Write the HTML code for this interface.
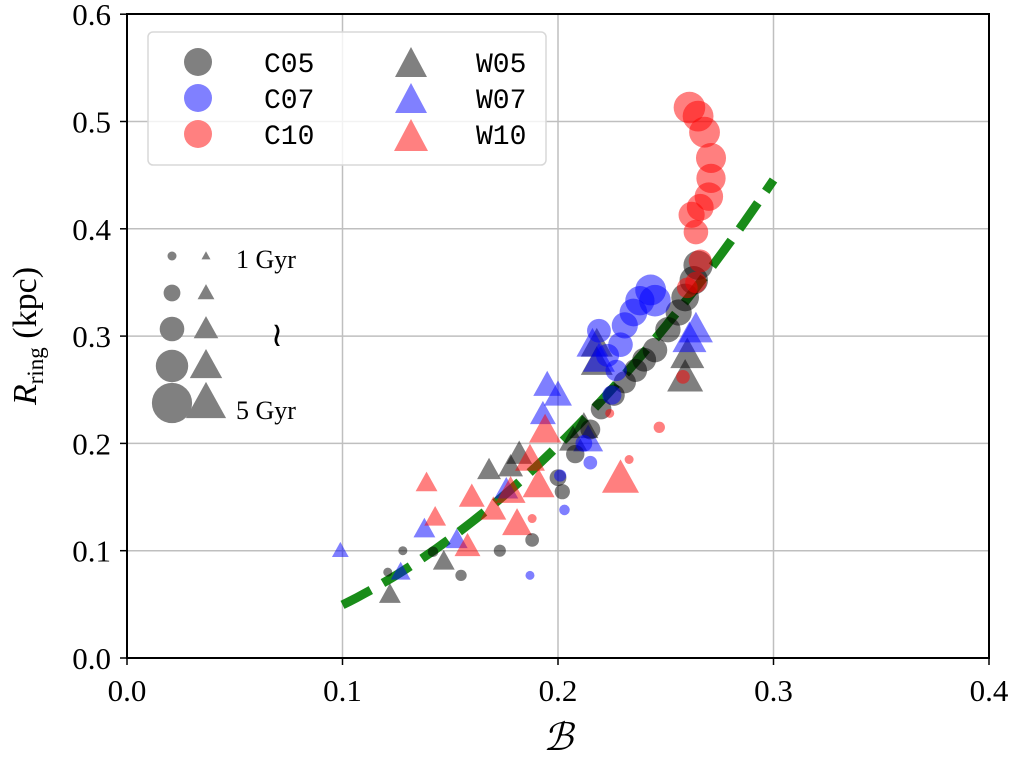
<!DOCTYPE html>
<html><head><meta charset="utf-8"><style>
html,body{margin:0;padding:0;background:#fff}
svg{display:block}
.tk{font-family:"Liberation Serif",serif;font-size:31px;fill:#000}
.lg{font-family:"Liberation Mono",monospace;font-size:28px;fill:#000}
</style></head><body>
<svg id="chart" width="1015" height="757" viewBox="0 0 1015 757" xmlns="http://www.w3.org/2000/svg">
<g id="grid"></g>
<g id="fit"></g>
<g id="marks"></g>
<rect x="127" y="14" width="862" height="644" fill="none" stroke="#000" stroke-width="2"/>
<g id="ticks"></g>
<text x="558" y="750" text-anchor="middle" style="font-family:'Liberation Serif',serif;font-style:italic;font-size:38px">ℬ</text>
<text transform="translate(36,336) rotate(-90)" text-anchor="middle" class="tk" style="font-size:34px"><tspan font-style="italic">R</tspan><tspan font-size="23" dy="7">ring</tspan><tspan dy="-7"> (kpc)</tspan></text>
<g>
<rect x="148" y="32" width="398" height="133" rx="5" fill="#fff" fill-opacity="0.8" stroke="#d8d8d8" stroke-width="1.5"/>
<circle cx="198" cy="62" r="14" fill="#808080"/>
<circle cx="198" cy="98" r="14" fill="#8080ff"/>
<circle cx="198" cy="134" r="14" fill="#ff8080"/>
<text x="264" y="72" class="lg">C05</text>
<text x="264" y="108" class="lg">C07</text>
<text x="264" y="144" class="lg">C10</text>
<polygon points="411,47 395,77 427,77" fill="#808080"/>
<polygon points="411,83 395,113 427,113" fill="#8080ff"/>
<polygon points="411,119 394,151 428,151" fill="#ff8080"/>
<text x="476" y="72" class="lg">W05</text>
<text x="476" y="108" class="lg">W07</text>
<text x="476" y="144" class="lg">W10</text>
</g>
<g id="sizeleg">
<text x="236" y="268" class="tk" style="font-size:26px">1 Gyr</text>
<text x="236" y="419" class="tk" style="font-size:26px">5 Gyr</text>
<text x="277" y="346" text-anchor="middle" class="tk" style="font-size:34px">≀</text>
</g>
</svg>
<script>
const xTicks=[0.0,0.1,0.2,0.3,0.4];
const yTicks=[0.0,0.1,0.2,0.3,0.4,0.5,0.6];
const xTickLabels=["0.0","0.1","0.2","0.3","0.4"];
const yTickLabels=["0.0","0.1","0.2","0.3","0.4","0.5","0.6"];
const fitCoef=4.95, fitExp=2, fitRange=[0.1,0.3];
// [B, Rring, age Gyr]
const c05=[[0.121,0.080,1],[0.128,0.100,1],[0.142,0.099,1.2],[0.155,0.077,1.3],[0.173,0.100,1.4],[0.188,0.110,1.6],[0.202,0.155,1.8],[0.200,0.168,2],[0.208,0.190,2.2],[0.215,0.213,2.4],[0.220,0.232,2.5],[0.226,0.245,2.6],[0.231,0.257,2.7],[0.236,0.268,2.8],[0.240,0.278,2.9],[0.245,0.287,3],[0.251,0.306,3.1],[0.256,0.322,3.2],[0.259,0.336,3.4],[0.263,0.352,3.5],[0.265,0.366,3.6]];
const c07=[[0.187,0.077,1],[0.203,0.138,1.2],[0.201,0.170,1.4],[0.215,0.182,1.6],[0.212,0.200,2],[0.225,0.245,2.3],[0.227,0.268,2.6],[0.223,0.282,2.8],[0.219,0.305,2.9],[0.229,0.292,3],[0.231,0.310,3.2],[0.235,0.322,3.4],[0.238,0.333,3.6],[0.243,0.343,3.8],[0.245,0.333,3.9]];
const c10=[[0.188,0.130,1],[0.233,0.185,1],[0.224,0.228,1],[0.247,0.215,1.3],[0.258,0.262,1.6],[0.260,0.345,2.5],[0.264,0.350,2.6],[0.266,0.370,2.8],[0.264,0.397,3],[0.262,0.413,3.2],[0.266,0.420,3.3],[0.270,0.430,3.5],[0.271,0.447,3.6],[0.271,0.466,3.7],[0.268,0.490,3.8],[0.265,0.505,3.8],[0.261,0.513,3.9]];
const w05=[[0.122,0.059,2],[0.147,0.090,2],[0.168,0.175,2.2],[0.178,0.178,2.3],[0.182,0.190,2.4],[0.207,0.203,2.6],[0.212,0.215,2.7],[0.218,0.292,3],[0.218,0.275,3],[0.260,0.282,3.2],[0.259,0.261,3.4]];
const w07=[[0.099,0.100,1.5],[0.127,0.080,1.8],[0.138,0.120,2],[0.153,0.110,2],[0.176,0.157,2.2],[0.193,0.227,2.4],[0.195,0.254,2.6],[0.200,0.245,2.6],[0.214,0.203,2.8],[0.216,0.292,3],[0.219,0.278,3],[0.261,0.297,3.2],[0.264,0.306,3.2]];
const w10=[[0.139,0.163,2],[0.143,0.131,2],[0.158,0.104,2.4],[0.160,0.150,2.4],[0.170,0.138,2.4],[0.178,0.155,2.8],[0.181,0.125,2.8],[0.187,0.185,2.8],[0.191,0.161,3],[0.194,0.212,3],[0.229,0.167,3.5]];
const sizeAges=[1,2,3,4,5];

const NS="http://www.w3.org/2000/svg";
const X=v=>127+v*2155, Y=v=>658-v*1073;
const rad=a=>0.6+3.9*a;
function mk(tag,attrs,parent){const e=document.createElementNS(NS,tag);for(const k in attrs)e.setAttribute(k,attrs[k]);parent.appendChild(e);return e;}
const grid=document.getElementById('grid'),ticks=document.getElementById('ticks');
xTicks.forEach((t,i)=>{
  const l=mk('line',{x1:X(t),x2:X(t),y1:14,y2:658,stroke:'#bfbfbf','stroke-width':1.5},grid);
  
  
  const k=mk('line',{x1:X(t),x2:X(t),y1:658,y2:665,stroke:'#000','stroke-width':1.5},ticks);
  
  
  const tx=mk('text',{x:X(t),y:701,'text-anchor':'middle',class:'tk'},ticks);tx.textContent=xTickLabels[i];
  
  
});
yTicks.forEach((t,i)=>{
  const l=mk('line',{x1:127,x2:989,y1:Y(t),y2:Y(t),stroke:'#bfbfbf','stroke-width':1.5},grid);
  
  
  const k=mk('line',{x1:120,x2:127,y1:Y(t),y2:Y(t),stroke:'#000','stroke-width':1.5},ticks);
  
  
  const tx=mk('text',{x:111,y:Y(t)+11,'text-anchor':'end',class:'tk'},ticks);tx.textContent=yTickLabels[i];
  
  
});
const marks=document.getElementById('marks');
function circles(arr,col,name){arr.forEach(p=>{const c=mk('circle',{cx:X(p[0]),cy:Y(p[1]),r:rad(p[2]),fill:col,'fill-opacity':0.5},marks);
  
  });}
function tris(arr,col,name){arr.forEach(p=>{const cx=X(p[0]),cy=Y(p[1]),h=rad(p[2])*1.3;
  const t=mk('polygon',{points:`${cx},${cy-h*1.05} ${cx-h},${cy+h*0.75} ${cx+h},${cy+h*0.75}`,fill:col,'fill-opacity':0.5},marks);
  
  });}
tris(w05,'#000','w05-point');tris(w07,'#0000ff','w07-point');tris(w10,'#ff0000','w10-point');
circles(c05,'#000','c05-point');circles(c07,'#0000ff','c07-point');circles(c10,'#ff0000','c10-point');
let d='';for(let i=0;i<=60;i++){const b=fitRange[0]+(fitRange[1]-fitRange[0])*i/60;d+=(i?'L':'M')+X(b).toFixed(1)+','+Y(fitCoef*Math.pow(b,fitExp)).toFixed(1);}
const fp=mk('path',{d:d,fill:'none',stroke:'#008000','stroke-opacity':0.9,'stroke-width':9,'stroke-dasharray':'32,14'},document.getElementById('fit'));


const sl=document.getElementById('sizeleg');
const slY=[256,293,329,366,403];
sizeAges.forEach((a,i)=>{const r=rad(a);
  const c=mk('circle',{cx:172,cy:slY[i],r:r,fill:'#808080'},sl);
  
  
  const t=mk('polygon',{points:`206,${slY[i]-r*1.05} ${206-r},${slY[i]+r*0.75} ${206+r},${slY[i]+r*0.75}`,fill:'#808080'},sl);
  
  
});
</script>
</body></html>
